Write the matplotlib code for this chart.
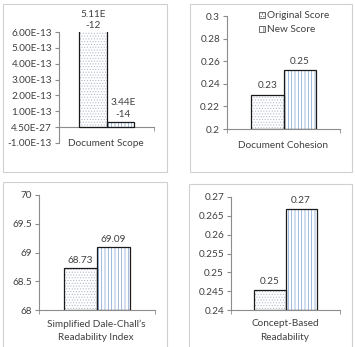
import matplotlib.pyplot as plt
from matplotlib.patches import Rectangle

plt.rcParams['font.family'] = ['Lato', 'DejaVu Sans']
plt.rcParams['hatch.linewidth'] = 0.5

W, H = 355, 347

series = ["Original Score", "New Score"]
scope = [5.11e-12, 3.44e-14]
scope_labels = ["5.11E\n-12", "3.44E\n-14"]
scope_ticks = [-1e-13, 0, 1e-13, 2e-13, 3e-13, 4e-13, 5e-13, 6e-13]
scope_ticklabels = ["-1.00E-13", "4.50E-27", "1.00E-13", "2.00E-13", "3.00E-13",
                    "4.00E-13", "5.00E-13", "6.00E-13"]
cohesion = [0.2305, 0.2520]
cohesion_labels = ["0.23", "0.25"]
cohesion_ticks = [0.2, 0.22, 0.24, 0.26, 0.28, 0.3]
cohesion_ticklabels = ["0.2", "0.22", "0.24", "0.26", "0.28", "0.3"]
dale = [68.73, 69.09]
dale_labels = ["68.73", "69.09"]
dale_ticks = [68, 68.5, 69, 69.5, 70]
dale_ticklabels = ["68", "68.5", "69", "69.5", "70"]
concept = [0.2453, 0.2667]
concept_labels = ["0.25", "0.27"]
concept_ticks = [0.24, 0.245, 0.25, 0.255, 0.26, 0.265, 0.27]
concept_ticklabels = ["0.24", "0.245", "0.25", "0.255", "0.26", "0.265", "0.27"]

txt = '#404040'
axc = '#8c8c8c'
fs = 7.2

fig = plt.figure(figsize=(W / 100, H / 100), dpi=100)

# panel frames (pixel coords: left, top, right, bottom)
for l, t, r, b in [(3, 4, 167, 172), (190, 4, 352, 172), (3, 182, 167, 350), (189, 184, 352, 350)]:
    fig.patches.append(Rectangle((l / W, 1 - b / H), (r - l) / W, (b - t) / H,
                                 transform=fig.transFigure, fill=False,
                                 edgecolor='#d0d0d0', lw=0.8))


def make_ax(l, t, r, b):
    return fig.add_axes([l / W, 1 - b / H, (r - l) / W, (b - t) / H])


def ftext(x, y, s, **kw):
    fig.text(x / W, 1 - y / H, s, fontsize=fs, color=txt, ha='center', va='center', **kw)


def draw(ax, vals, ticks, ticklabels, ylim, base=None):
    pos = [-0.5, 0.5]
    bottom = ylim[0] if base is None else base
    hts = [v - bottom for v in vals]
    # fills + hatches
    ax.bar(pos[0], hts[0], 1, bottom=bottom, color='white', edgecolor='#b4bccc',
           hatch='......', lw=0, zorder=2)
    ax.bar(pos[1], hts[1], 1, bottom=bottom, color='white', edgecolor='#7f9fd0',
           hatch='|||||', lw=0, zorder=2)
    ax.bar(pos, hts, 1, bottom=bottom, fill=False, edgecolor='#1a1a1a', lw=0.9, zorder=3)
    ax.set_xlim(-1.75, 1.75)
    ax.set_ylim(*ylim)
    ax.set_yticks(ticks)
    ax.set_yticklabels(ticklabels)
    ax.set_xticks([])
    ax.set_xticks([-1.75, 1.75], minor=True)
    ax.tick_params(axis='x', which='minor', length=3, color=axc, direction='out')
    ax.tick_params(axis='y', length=3, color=axc, labelsize=fs, labelcolor=txt, pad=2)
    for s in ['top', 'right']:
        ax.spines[s].set_visible(False)
    for s in ['left', 'bottom']:
        ax.spines[s].set_color(axc)
        ax.spines[s].set_linewidth(0.8)
    if base is not None:
        ax.spines['bottom'].set_position(('data', base))
    ax.patch.set_alpha(0)
    return pos


# Document Scope
ax1 = make_ax(59, 32, 154, 143)
pos = draw(ax1, scope, scope_ticks, scope_ticklabels, (-1e-13, 6e-13), base=0)
ax1.text(pos[0], 6e-13 + 0.15e-13, scope_labels[0], ha='center', va='bottom', fontsize=fs,
         color=txt, linespacing=1.3, clip_on=False)
ax1.text(pos[1] + 0.1, scope[1] + 0.2e-13, scope_labels[1], ha='center', va='bottom', fontsize=fs,
         color=txt, linespacing=1.3)
ftext(106, 144, "Document Scope")

# Document Cohesion
ax2 = make_ax(227, 16, 340, 129)
pos = draw(ax2, cohesion, cohesion_ticks, cohesion_ticklabels, (0.2, 0.3))
for p, v, s in zip(pos, cohesion, cohesion_labels):
    ax2.text(p, v + 0.004, s, ha='center', va='bottom', fontsize=fs, color=txt)
ftext(283, 145, "Document Cohesion")

# legend
fig.patches.append(Rectangle((259 / W, 1 - 18 / H), 6 / W, 6 / H, transform=fig.transFigure,
                             facecolor='white', edgecolor='#555555', lw=0.6, hatch='......'))
fig.patches.append(Rectangle((259 / W, 1 - 32 / H), 6 / W, 6 / H, transform=fig.transFigure,
                             facecolor='white', edgecolor='#555555', lw=0.6, hatch='|||'))
fig.text(267 / W, 1 - 15 / H, series[0], fontsize=fs, color=txt, va='center')
fig.text(267 / W, 1 - 29 / H, series[1], fontsize=fs, color=txt, va='center')

# Simplified Dale-Chall
ax3 = make_ax(39, 195, 155, 310)
pos = draw(ax3, dale, dale_ticks, dale_ticklabels, (68, 70))
for p, v, s in zip(pos, dale, dale_labels):
    ax3.text(p, v + 0.06, s, ha='center', va='bottom', fontsize=fs, color=txt)
ftext(96, 324, "Simplified Dale-Chall\u2019s")
ftext(96, 338, "Readability Index")

# Concept-Based Readability
ax4 = make_ax(231, 197, 340, 310)
pos = draw(ax4, concept, concept_ticks, concept_ticklabels, (0.24, 0.27))
for p, v, s in zip(pos, concept, concept_labels):
    ax4.text(p, v + 0.0012, s, ha='center', va='bottom', fontsize=fs, color=txt)
ftext(285, 324, "Concept-Based")
ftext(285, 338, "Readability")

fig.savefig("out.png", dpi=100)
